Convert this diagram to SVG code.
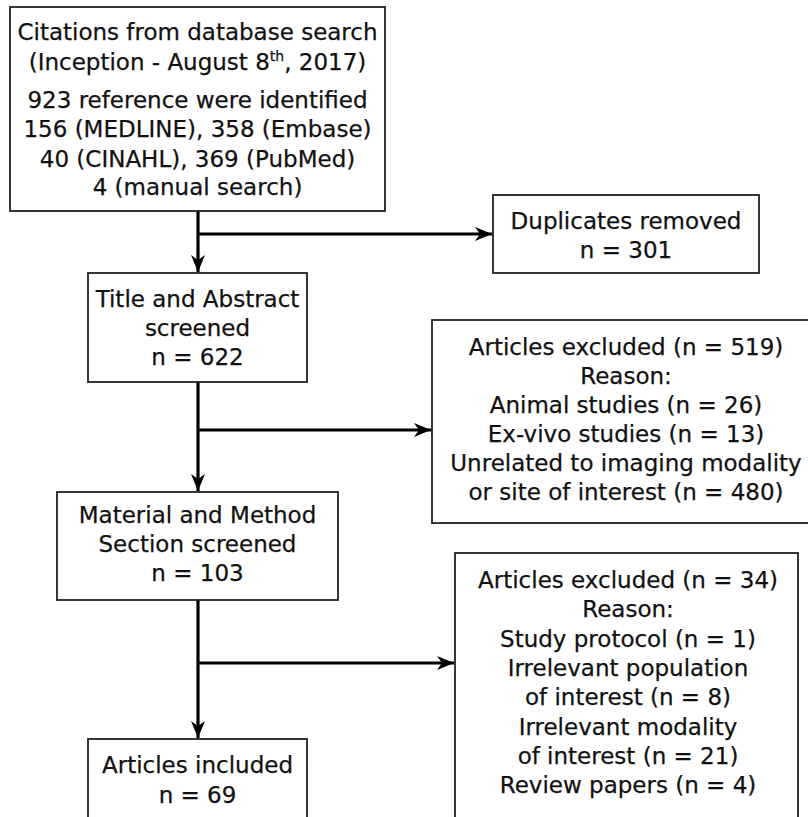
<svg xmlns="http://www.w3.org/2000/svg" width="808" height="817" viewBox="0 0 808 817">
<defs>
<style>
.box{fill:#fff;stroke:#222;stroke-width:1.8}
.t{font-family:"DejaVu Sans","Verdana",sans-serif;font-size:23px;fill:#111;stroke:#111;stroke-width:0.25;text-anchor:middle}
.c{stroke:#000;stroke-width:3.2;fill:none}
</style>
<marker id="ah" markerUnits="userSpaceOnUse" markerWidth="22" markerHeight="18" viewBox="-20 -9 22 18" refX="0" refY="0" orient="auto">
<path d="M0,0 L-17,-7 L-12,0 L-17,7 Z" fill="#000"/>
</marker>
</defs>
<rect width="808" height="817" fill="#fff"/>
<g id="connectors">
<line class="c" x1="198" y1="211" x2="198" y2="272" marker-end="url(#ah)"/>
<line class="c" x1="198" y1="234" x2="492" y2="234" marker-end="url(#ah)"/>
<line class="c" x1="198" y1="382" x2="198" y2="491" marker-end="url(#ah)"/>
<line class="c" x1="198" y1="430" x2="431" y2="430" marker-end="url(#ah)"/>
<line class="c" x1="198" y1="600" x2="198" y2="738" marker-end="url(#ah)"/>
<line class="c" x1="198" y1="663" x2="454" y2="663" marker-end="url(#ah)"/>
</g>
<g id="citations">
<rect class="box" x="10" y="7" width="375" height="204"/>
<text class="t" x="197.5" y="40">Citations from database search</text>
<text class="t" x="197.5" y="70">(Inception - August 8<tspan font-size="14" dy="-9">th</tspan><tspan dy="9">, 2017)</tspan></text>
<text class="t" x="197.5" y="108">923 reference were identified</text>
<text class="t" x="197.5" y="137">156 (MEDLINE), 358 (Embase)</text>
<text class="t" x="197.5" y="167">40 (CINAHL), 369 (PubMed)</text>
<text class="t" x="197.5" y="195">4 (manual search)</text>
</g>
<g id="duplicates">
<rect class="box" x="493" y="195" width="266" height="78"/>
<text class="t" x="626" y="229">Duplicates removed</text>
<text class="t" x="626" y="258">n = 301</text>
</g>
<g id="title-abstract">
<rect class="box" x="88" y="273" width="219" height="109"/>
<text class="t" x="197.5" y="307">Title and Abstract</text>
<text class="t" x="197.5" y="336">screened</text>
<text class="t" x="197.5" y="365">n = 622</text>
</g>
<g id="excluded-519">
<rect class="box" x="432" y="320" width="400" height="203"/>
<text class="t" x="626" y="355">Articles excluded (n = 519)</text>
<text class="t" x="626" y="384">Reason:</text>
<text class="t" x="626" y="413">Animal studies (n = 26)</text>
<text class="t" x="626" y="442">Ex-vivo studies (n = 13)</text>
<text class="t" x="626" y="471">Unrelated to imaging modality</text>
<text class="t" x="626" y="500">or site of interest (n = 480)</text>
</g>
<g id="material-method">
<rect class="box" x="57" y="492" width="281" height="108"/>
<text class="t" x="197.5" y="523">Material and Method</text>
<text class="t" x="197.5" y="552">Section screened</text>
<text class="t" x="197.5" y="581">n = 103</text>
</g>
<g id="excluded-34">
<rect class="box" x="455" y="553" width="343" height="290"/>
<text class="t" x="628" y="588">Articles excluded (n = 34)</text>
<text class="t" x="628" y="617">Reason:</text>
<text class="t" x="628" y="647">Study protocol (n = 1)</text>
<text class="t" x="628" y="676">Irrelevant population</text>
<text class="t" x="628" y="705">of interest (n = 8)</text>
<text class="t" x="628" y="735">Irrelevant modality</text>
<text class="t" x="628" y="764">of interest (n = 21)</text>
<text class="t" x="628" y="793">Review papers (n = 4)</text>
</g>
<g id="included">
<rect class="box" x="88" y="739" width="219" height="110"/>
<text class="t" x="197.5" y="773">Articles included</text>
<text class="t" x="197.5" y="803">n = 69</text>
</g>
</svg>
